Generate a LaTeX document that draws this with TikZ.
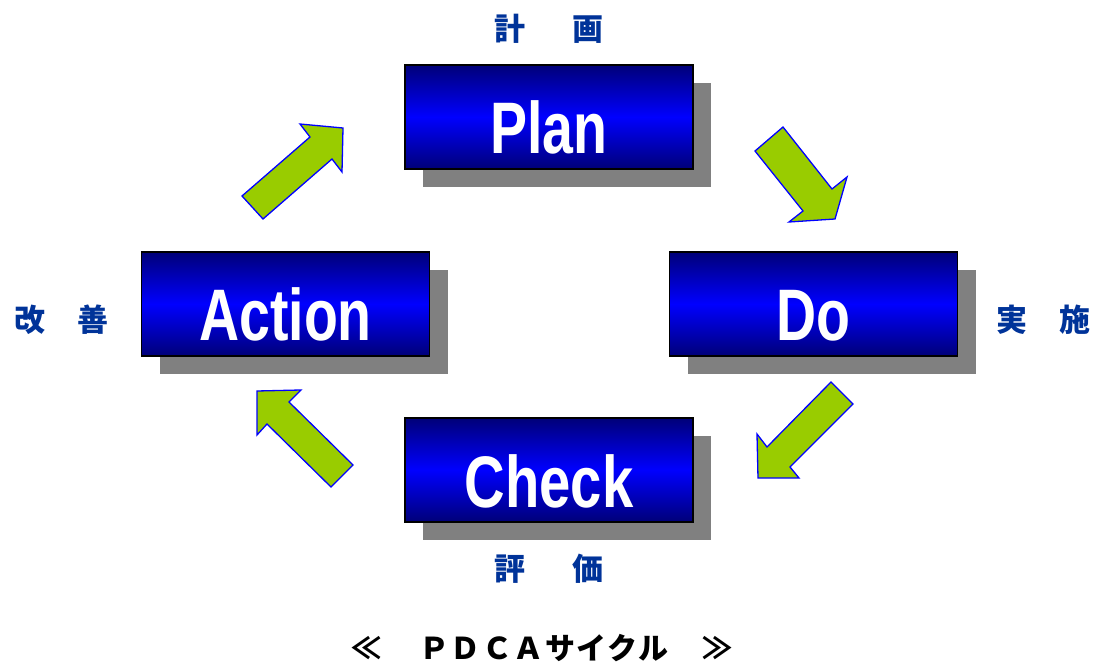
\documentclass[tikz,border=0pt]{standalone}
\usepackage{fontspec}
\setmainfont{Liberation Sans}
\newfontfamily\cjk{Noto Sans CJK JP}
\usetikzlibrary{shadows}
\definecolor{navyb}{RGB}{0,0,120}
\definecolor{brightb}{RGB}{0,0,255}
\definecolor{lblue}{RGB}{0,51,153}
\definecolor{agreen}{RGB}{153,204,0}
\definecolor{shgray}{RGB}{128,128,128}
\begin{document}
\begin{tikzpicture}[x=1pt,y=-1pt,
  pbox/.style={rectangle, draw=black, line width=1.3pt,
    top color=navyb, bottom color=navyb, middle color=brightb,
    minimum width=288pt, minimum height=104pt, inner sep=0pt,
    text=white, text height=74pt, text depth=0pt,
    font=\fontsize{73}{73}\selectfont\bfseries,
    drop shadow={shadow xshift=18pt, shadow yshift=-18pt, fill=shgray, opacity=1}},
  jlabel/.style={text=lblue, font=\cjk\fontsize{31}{31}\selectfont\bfseries, inner sep=0pt},
  garrow/.style={fill=agreen, draw=blue, line width=1.3pt, line join=miter}]
\useasboundingbox (0,0) rectangle (1096,663);
\node[pbox] (plan) at (549,117) {\scalebox{0.76}[1]{Plan}};
\node[pbox] (do) at (813.5,304) {\scalebox{0.76}[1]{Do}};
\node[pbox] (action) at (285.5,304) {\scalebox{0.76}[1]{Action}};
\node[pbox] (check) at (549,470) {\scalebox{0.77}[1]{Check}};
% labels
\node[jlabel] (lplan) at (549,29) {計\hspace{47pt}画};
\node[jlabel] (lcheck) at (549,569) {評\hspace{47pt}価};
\node[jlabel] (laction) at (61.5,320) {改\hspace{33pt}善};
\node[jlabel] (ldo) at (1043.5,320) {実\hspace{33pt}施};
% arrows
\draw[garrow] (242,196) -- (310,137) -- (300,124) -- (343,128) -- (342,172) -- (332,159) -- (263,219) -- cycle;
\draw[garrow] (755,151) -- (783,127) -- (832,189) -- (847,177) -- (835,219) -- (789,222) -- (803,211) -- cycle;
\draw[garrow] (831,382) -- (853,404) -- (790,467) -- (799,478) -- (758,478) -- (757,434) -- (767,447) -- cycle;
\draw[garrow] (353,465) -- (331,487) -- (267,424) -- (257,435) -- (257,391) -- (301,390) -- (289,402) -- cycle;
% caption
\node[inner sep=0pt, font=\cjk\fontsize{30}{30}\selectfont\bfseries] (caption) at (542,648) {≪\hspace{38pt}{\addfontfeatures{LetterSpace=5}ＰＤＣＡサイクル}\hspace{34pt}≫};
\end{tikzpicture}
\end{document}
